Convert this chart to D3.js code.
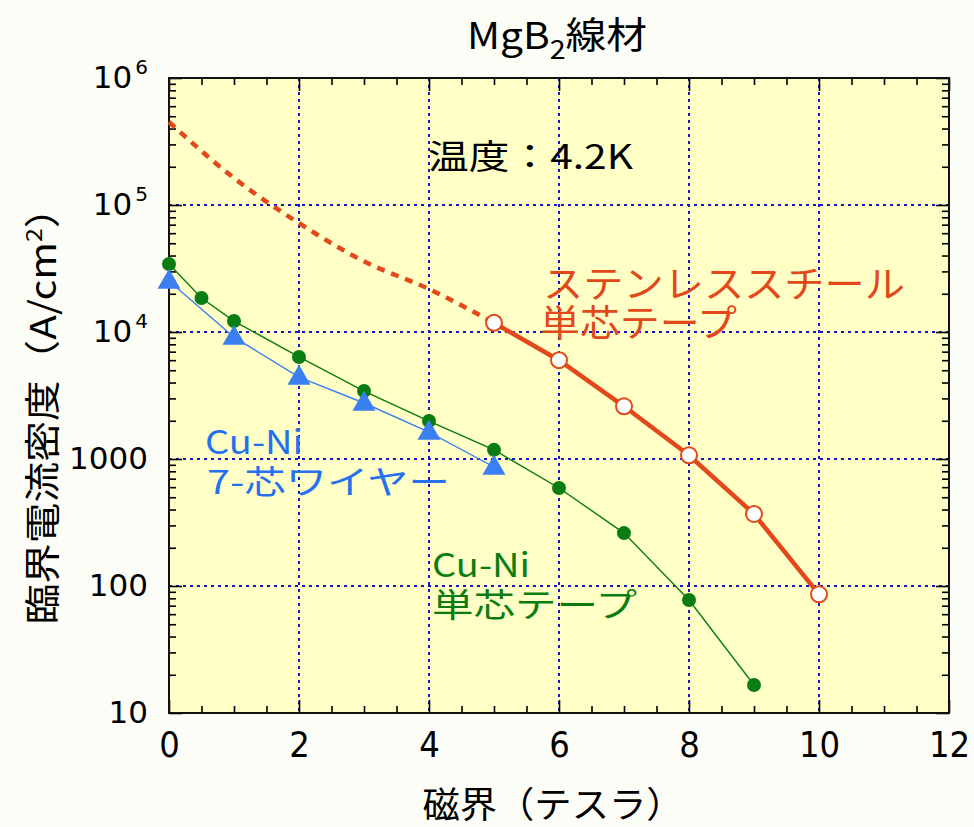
<!DOCTYPE html>
<html>
<head>
<meta charset="utf-8">
<script src="https://cdn.jsdelivr.net/npm/d3@7"></script>
<style>
  body { margin: 0; background: #fdfdf7; }
</style>
</head>
<body>
<svg id="chart" width="974" height="827"></svg>
<script>
// MgB2 wire: critical current density vs field, 4.2K
const steelDashField = [0, 1, 2, 3, 4, 5];
const steelDashJc = [4.5e5, 1.63e5, 7.2e4, 3.6e4, 2.18e4, 1.18e4];
const steelField = [5, 6, 7, 8, 9, 10];
const steelJc = [1.18e4, 6.0e3, 2.6e3, 1.07e3, 369, 86];
const tapeField = [0, 0.5, 1, 2, 3, 4, 5, 6, 7, 8, 9];
const tapeJc = [3.43e4, 1.85e4, 1.22e4, 6.36e3, 3.43e3, 1.99e3, 1.18e3, 591, 261, 77.6, 16.6];
const wireField = [0, 1, 2, 3, 4, 5];
const wireJc = [2.52e4, 9.1e3, 4.42e3, 2.76e3, 1.63e3, 865];
const xTicks = [0, 2, 4, 6, 8, 10, 12];
const yTicks = [10, 100, 1000, 1e4, 1e5, 1e6];
const yTickBase = ['10', '100', '1000', '10', '10', '10'];
const yTickExp = ['', '', '', '4', '5', '6'];

(function() {
    const W = 974, H = 827;
    const margin = {top: 78, right: 25, bottom: 114, left: 169};
    const red = '#e2481a', green = '#0a7d12', blue = '#3a80f2', blueText = '#2470ee';
    const cjk = '"Noto Sans CJK JP", sans-serif';

    const svg = d3.select('#chart');

    const x = d3.scaleLinear().domain([0, 12]).range([margin.left, W - margin.right]);
    const y = d3.scaleLog().domain([10, 1e6]).range([H - margin.bottom, margin.top]);

    // plot background
    svg.append('rect')
        .attr('x', x(0)).attr('y', y(1e6))
        .attr('width', x(12) - x(0)).attr('height', y(10) - y(1e6))
        .attr('fill', '#ffffc6');

    // grid
    const grid = svg.append('g')
        .attr('stroke', '#1515d0')
        .attr('stroke-width', 2)
        .attr('stroke-dasharray', '3,4');
    grid.selectAll('.gx')
        .data(xTicks.slice(1, -1))
        .join('line')
        .attr('x1', d => x(d)).attr('x2', d => x(d))
        .attr('y1', y(1e6)).attr('y2', y(10));
    grid.selectAll('.gy')
        .data(yTicks.slice(1, -1))
        .join('line')
        .attr('y1', d => y(d)).attr('y2', d => y(d))
        .attr('x1', x(0)).attr('x2', x(12));

    // axes (ticks inward on all four sides)
    const xMinor = d3.range(0.5, 12, 0.5).filter(v => !xTicks.includes(v));
    const yMinor = y.ticks().filter(v => !yTicks.includes(v));

    function styleAxis(g) {
        g.select('.domain').remove();
        g.selectAll('.tick line').attr('stroke', '#000').attr('stroke-width', 1.6);
    }

    const xAxis = svg.append('g')
        .attr('transform', `translate(0,${y(10)})`)
        .call(d3.axisBottom(x).tickValues(xTicks).tickSize(-13).tickPadding(18).tickFormat(d3.format('d')))
        .call(styleAxis);
    xAxis.selectAll('.tick text')
        .attr('font-family', '"Liberation Sans Narrow", "DejaVu Sans Condensed", "Liberation Sans", sans-serif')
        .attr('font-size', 36)
        .attr('fill', '#000');

    svg.append('g')
        .attr('transform', `translate(0,${y(10)})`)
        .call(d3.axisBottom(x).tickValues(xMinor).tickSize(-7).tickFormat(''))
        .call(styleAxis);
    svg.append('g')
        .attr('transform', `translate(0,${y(1e6)})`)
        .call(d3.axisTop(x).tickValues(xTicks).tickSize(-13).tickFormat(''))
        .call(styleAxis);
    svg.append('g')
        .attr('transform', `translate(0,${y(1e6)})`)
        .call(d3.axisTop(x).tickValues(xMinor).tickSize(-7).tickFormat(''))
        .call(styleAxis);

    const yAxis = svg.append('g')
        .attr('transform', `translate(${x(0)},0)`)
        .call(d3.axisLeft(y).tickValues(yTicks).tickSize(-13).tickPadding(21).tickFormat(''))
        .call(styleAxis);
    yAxis.selectAll('.tick text')
        .attr('font-family', '"DejaVu Sans", sans-serif')
        .attr('font-size', 31)
        .attr('fill', '#000')
        .each(function(d, i) {
            const t = d3.select(this);
            t.append('tspan').text(yTickBase[i]);
            if (yTickExp[i]) {
                t.append('tspan').attr('dy', -14).attr('font-size', 20).attr('dx', 3).text(yTickExp[i]);
            }
        });

    svg.append('g')
        .attr('transform', `translate(${x(0)},0)`)
        .call(d3.axisLeft(y).tickValues(yMinor).tickSize(-7).tickFormat(''))
        .call(styleAxis);
    svg.append('g')
        .attr('transform', `translate(${x(12)},0)`)
        .call(d3.axisRight(y).tickValues(yTicks).tickSize(-13).tickFormat(''))
        .call(styleAxis);
    svg.append('g')
        .attr('transform', `translate(${x(12)},0)`)
        .call(d3.axisRight(y).tickValues(yMinor).tickSize(-7).tickFormat(''))
        .call(styleAxis);

    // frame
    svg.append('rect')
        .attr('x', x(0)).attr('y', y(1e6))
        .attr('width', x(12) - x(0)).attr('height', y(10) - y(1e6))
        .attr('fill', 'none')
        .attr('stroke', '#111')
        .attr('stroke-width', 2);

    // series lines
    const line = d3.line().x(d => x(d[0])).y(d => y(d[1]));
    const curve = d3.line().curve(d3.curveMonotoneX).x(d => x(d[0])).y(d => y(d[1]));

    svg.append('path')
        .datum(steelDashField.map((f, i) => [f, steelDashJc[i]]))
        .attr('d', curve)
        .attr('fill', 'none')
        .attr('stroke', red)
        .attr('stroke-width', 4.5)
        .attr('stroke-dasharray', '8,7');

    svg.append('path')
        .datum(steelField.map((f, i) => [f, steelJc[i]]))
        .attr('d', line)
        .attr('fill', 'none')
        .attr('stroke', red)
        .attr('stroke-width', 4.5);

    const tape = tapeField.map((f, i) => [f, tapeJc[i]]);
    const wire = wireField.map((f, i) => [f, wireJc[i]]);

    svg.append('path')
        .datum(tape)
        .attr('d', line)
        .attr('fill', 'none')
        .attr('stroke', green)
        .attr('stroke-width', 1.4);

    svg.append('path')
        .datum(wire)
        .attr('d', line)
        .attr('fill', 'none')
        .attr('stroke', blue)
        .attr('stroke-width', 1.4);

    // markers
    svg.append('g').selectAll('circle')
        .data(tape)
        .join('circle')
        .attr('cx', d => x(d[0])).attr('cy', d => y(d[1]))
        .attr('r', 7)
        .attr('fill', green);

    svg.append('g').selectAll('path')
        .data(wire)
        .join('path')
        .attr('transform', d => `translate(${x(d[0])},${y(d[1]) + 1})`)
        .attr('d', d3.symbol(d3.symbolTriangle, 230))
        .attr('fill', blue);

    svg.append('g').selectAll('circle')
        .data(steelField.map((f, i) => [f, steelJc[i]]))
        .join('circle')
        .attr('cx', d => x(d[0])).attr('cy', d => y(d[1]))
        .attr('r', 8)
        .attr('fill', '#fff')
        .attr('stroke', red)
        .attr('stroke-width', 2);

    // title
    const title = svg.append('text')
        .attr('x', 557).attr('y', 49)
        .attr('text-anchor', 'middle')
        .attr('font-family', cjk)
        .attr('font-size', 37)
        .attr('textLength', 180).attr('lengthAdjust', 'spacingAndGlyphs')
        .attr('fill', '#000');
    title.append('tspan').text('MgB');
    title.append('tspan').attr('dy', 10).attr('font-size', 26).text('2');
    title.append('tspan').attr('dy', -10).text('線材');

    // annotations
    svg.append('text')
        .attr('x', 428).attr('y', 169)
        .attr('font-family', cjk).attr('font-size', 34)
        .attr('textLength', 205).attr('lengthAdjust', 'spacingAndGlyphs')
        .attr('fill', '#000')
        .text('温度：4.2K');

    const labels = [
        {t: 'ステンレススチール', x: 543, y: 298, len: 362, c: red, s: 37},
        {t: '単芯テープ', x: 540, y: 337, len: 197, c: red, s: 37},
        {t: 'Cu-Ni', x: 205, y: 454, len: 98, c: blueText, s: 33},
        {t: '7-芯ワイヤー', x: 207, y: 494, len: 243, c: blueText, s: 33},
        {t: 'Cu-Ni', x: 432, y: 577, len: 98, c: green, s: 33},
        {t: '単芯テープ', x: 432, y: 617, len: 205, c: green, s: 33}
    ];
    svg.append('g').selectAll('text')
        .data(labels)
        .join('text')
        .attr('x', d => d.x).attr('y', d => d.y)
        .attr('font-family', cjk)
        .attr('font-size', d => d.s)
        .attr('fill', d => d.c)
        .attr('textLength', d => d.len)
        .attr('lengthAdjust', 'spacingAndGlyphs')
        .text(d => d.t);

    // axis titles
    svg.append('text')
        .attr('x', 553).attr('y', 818)
        .attr('text-anchor', 'middle')
        .attr('font-family', cjk).attr('font-size', 36)
        .attr('textLength', 261).attr('lengthAdjust', 'spacingAndGlyphs')
        .attr('fill', '#000')
        .text('磁界（テスラ）');

    const yTitle = svg.append('text')
        .attr('transform', 'translate(56,406) rotate(-90)')
        .attr('text-anchor', 'middle')
        .attr('font-family', cjk).attr('font-size', 36)
        .attr('textLength', 437).attr('lengthAdjust', 'spacingAndGlyphs')
        .attr('fill', '#000');
    yTitle.append('tspan').text('臨界電流密度（A/cm');
    yTitle.append('tspan').attr('dy', -14).attr('font-size', 22).text('2');
    yTitle.append('tspan').attr('dy', 14).text('）');
})();
</script>
</body>
</html>
